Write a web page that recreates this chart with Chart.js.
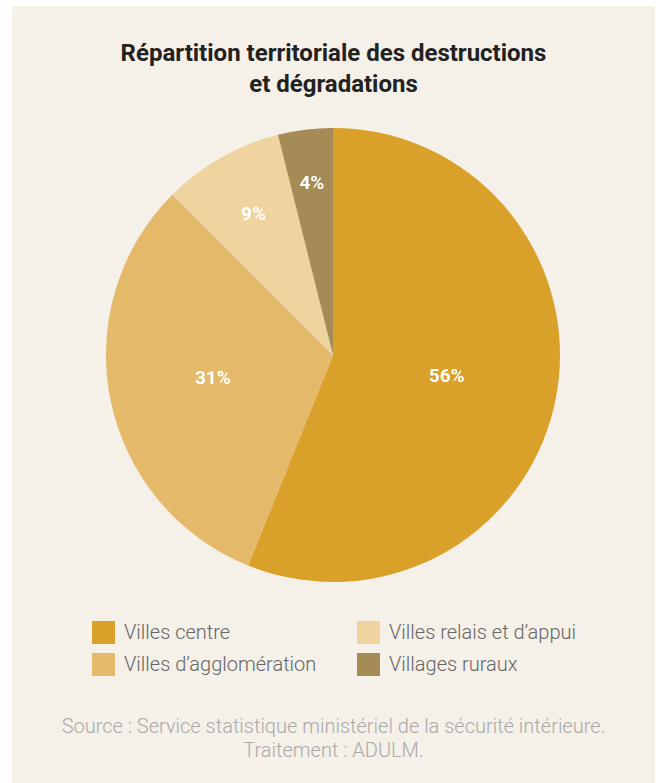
<!DOCTYPE html>
<html>
<head>
<meta charset="utf-8">
<script src="https://cdn.jsdelivr.net/npm/chart.js@4"></script>
<style>
  body { margin: 0; background: #fff; font-family: Roboto, sans-serif; }
  #panel { position: absolute; left: 12px; top: 6px; width: 643px; height: 777px; background: #f5f0e8; }
  #title { position: absolute; left: 0; top: 32px; width: 643px; text-align: center; font-weight: 700; font-size: 24px; line-height: 31px; color: #222; }
  #chartBox { position: absolute; left: 91px; top: 119px; width: 460px; height: 460px; }
  #legend { position: absolute; left: 80px; top: 614px; width: 560px; }
  .item { position: absolute; display: flex; align-items: center; font-size: 20px; font-weight: 300; color: #666; white-space: nowrap; }
  .swatch { width: 23px; height: 23px; margin-right: 9px; }
  #source { position: absolute; left: 0; top: 708px; width: 643px; text-align: center; font-size: 20px; font-weight: 300; line-height: 24px; color: #aaa; }
</style>
</head>
<body>
<div id="panel">
  <div id="title">Répartition territoriale des destructions<br>et dégradations</div>
  <div id="chartBox"><canvas id="pieChart"></canvas></div>
  <div id="legend"></div>
  <div id="source">Source : Service statistique ministériel de la sécurité intérieure.<br>Traitement : ADULM.</div>
</div>
<script>
const categories = ['Villes centre', 'Villes d\u2019agglomération', 'Villes relais et d\u2019appui', 'Villages ruraux'];
const shares = [56.1, 31.4, 8.6, 3.9];
const colors = ['#d9a12a', '#e4b96a', '#efd4a0', '#a58b55'];
// how far out from the centre each percent label sits (fraction of radius)
const labelRadius = [0.51, 0.54, 0.71, 0.76];

const legendBox = document.getElementById('legend');
const legendSpots = [[0, 0], [0, 32], [265, 0], [265, 32]];
categories.forEach((name, i) => {
  legendBox.innerHTML += `
  <div class="item" style="left:${legendSpots[i][0]}px; top:${legendSpots[i][1]}px">
    <div class="swatch" style="background:${colors[i]}"></div>${name}
  </div>`;
});

const percentLabels = {
  id: 'percentLabels',
  afterDatasetsDraw(chart) {
    const ctx = chart.ctx;
    const meta = chart.getDatasetMeta(0);
    ctx.save();
    ctx.fillStyle = '#ffffff';
    ctx.font = 'bold 19px Roboto';
    ctx.textAlign = 'center';
    ctx.textBaseline = 'middle';
    meta.data.forEach((arc, i) => {
      const mid = (arc.startAngle + arc.endAngle) / 2;
      const r = arc.outerRadius * labelRadius[i];
      ctx.fillText(Math.round(shares[i]) + '%', arc.x + Math.cos(mid) * r, arc.y + Math.sin(mid) * r);
    });
    ctx.restore();
  }
};

new Chart(document.getElementById('pieChart'), {
  type: 'pie',
  data: {
    labels: categories,
    datasets: [{
      data: shares,
      backgroundColor: colors,
      borderWidth: 0,
    }],
  },
  options: {
    responsive: true,
    maintainAspectRatio: false,
    animation: false,
    layout: { padding: 3 },
    plugins: {
      legend: { display: false },
      tooltip: { enabled: false },
    }
  },
  plugins: [percentLabels]
});
</script>
</body>
</html>
